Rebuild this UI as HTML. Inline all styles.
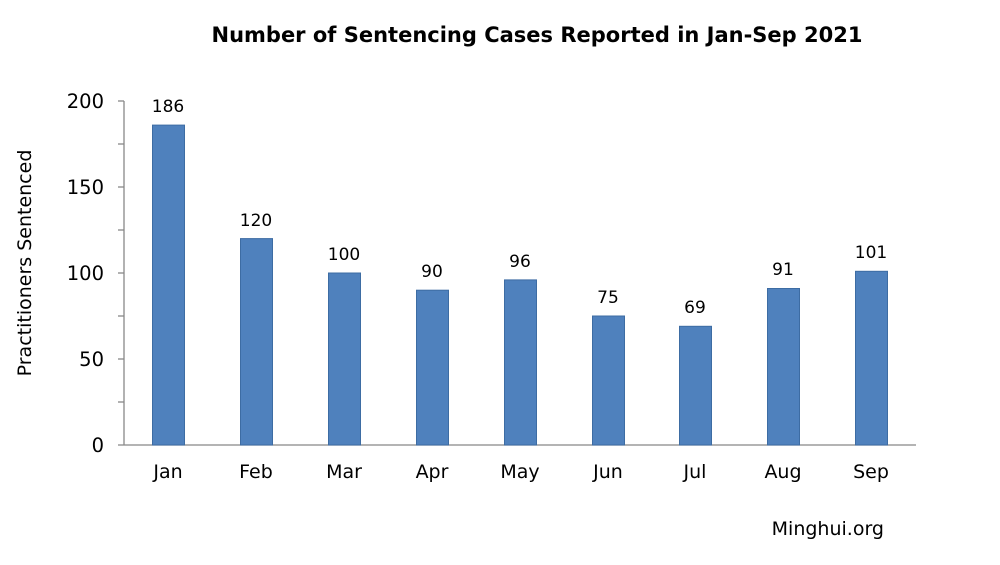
<!DOCTYPE html>
<html><head><meta charset="utf-8"><style>
body{margin:0;background:#fff}
svg text{font-family:"DejaVu Sans","Liberation Sans",sans-serif;fill:#000}
</style></head><body>
<svg width="1000" height="560" xmlns="http://www.w3.org/2000/svg">
<rect width="1000" height="560" fill="#fff"/>
<text x="537" y="42" text-anchor="middle" font-size="21" font-weight="bold">Number of Sentencing Cases Reported in Jan-Sep 2021</text>
<text transform="translate(31,263) rotate(-90)" text-anchor="middle" font-size="19">Practitioners Sentenced</text>
<g stroke="#888" stroke-width="1.3">
<line x1="124" y1="101" x2="124" y2="445"/>
<line x1="118" y1="445" x2="916" y2="445"/>
<line x1="118" y1="101" x2="124" y2="101"/>
<line x1="118" y1="144" x2="124" y2="144"/>
<line x1="118" y1="187" x2="124" y2="187"/>
<line x1="118" y1="230" x2="124" y2="230"/>
<line x1="118" y1="273" x2="124" y2="273"/>
<line x1="118" y1="316" x2="124" y2="316"/>
<line x1="118" y1="359" x2="124" y2="359"/>
<line x1="118" y1="402" x2="124" y2="402"/>
</g>
<g font-size="19.5" text-anchor="end">
<text x="104" y="108">200</text>
<text x="104" y="194">150</text>
<text x="104" y="280">100</text>
<text x="104" y="366">50</text>
<text x="104" y="452">0</text>
</g>
<g fill="#4f81bd" stroke="#3d6ca3" stroke-width="1">
<rect x="152.5" y="125.1" width="32" height="319.9"/>
<rect x="240.5" y="238.6" width="32" height="206.4"/>
<rect x="328.5" y="273" width="32" height="172"/>
<rect x="416.5" y="290.2" width="32" height="154.8"/>
<rect x="504.5" y="279.9" width="32" height="165.1"/>
<rect x="592.5" y="316" width="32" height="129"/>
<rect x="679.5" y="326.3" width="32" height="118.7"/>
<rect x="767.5" y="288.5" width="32" height="156.5"/>
<rect x="855.5" y="271.3" width="32" height="173.7"/>
</g>
<g font-size="17" text-anchor="middle">
<text x="168" y="112">186</text>
<text x="256" y="226">120</text>
<text x="344" y="260">100</text>
<text x="432" y="277">90</text>
<text x="520" y="267">96</text>
<text x="608" y="303">75</text>
<text x="695" y="313">69</text>
<text x="783" y="275">91</text>
<text x="871" y="258">101</text>
</g>
<g font-size="19" text-anchor="middle">
<text x="168" y="478">Jan</text>
<text x="256" y="478">Feb</text>
<text x="344" y="478">Mar</text>
<text x="432" y="478">Apr</text>
<text x="520" y="478">May</text>
<text x="608" y="478">Jun</text>
<text x="695" y="478">Jul</text>
<text x="783" y="478">Aug</text>
<text x="871" y="478">Sep</text>
</g>
<text x="884" y="535" text-anchor="end" font-size="19">Minghui.org</text>
</svg>
</body></html>
